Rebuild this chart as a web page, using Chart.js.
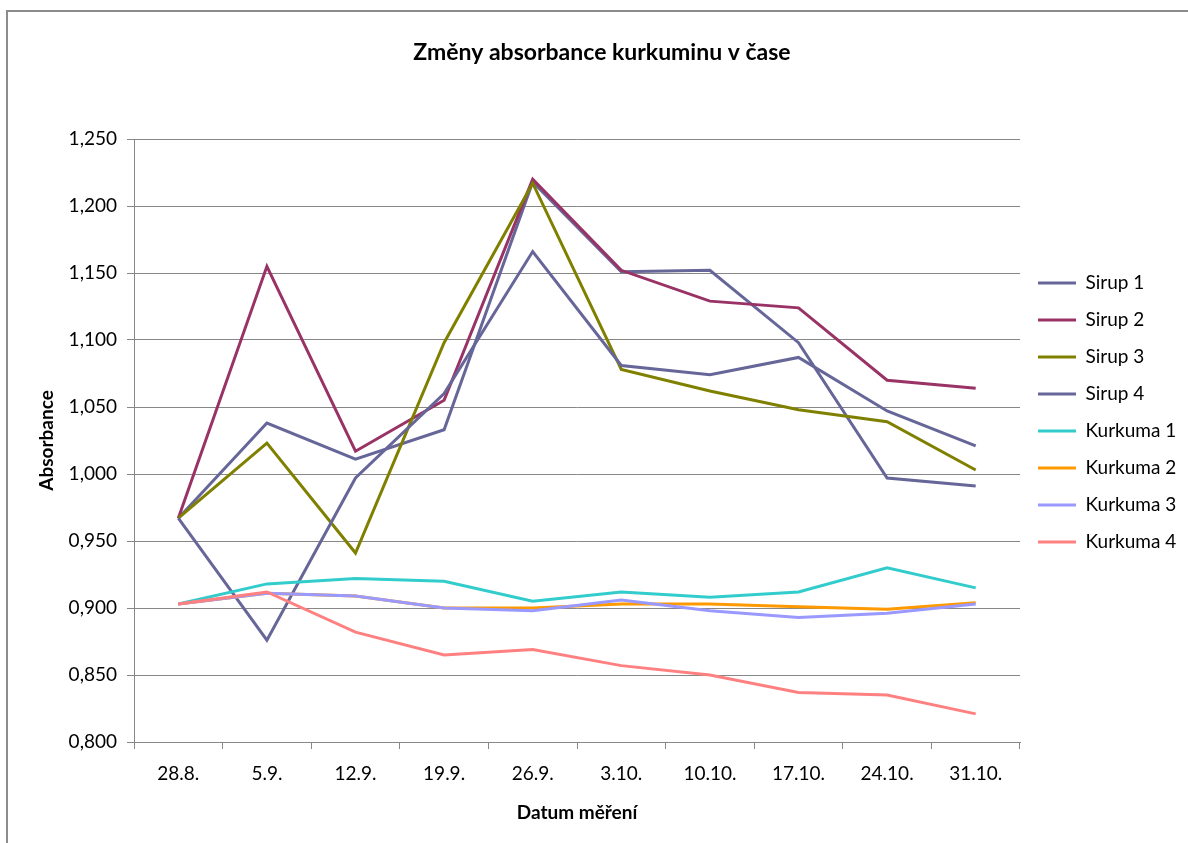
<!DOCTYPE html>
<html lang="cs">
<head>
<meta charset="utf-8">
<title>Změny absorbance kurkuminu v čase</title>
<script src="https://cdn.jsdelivr.net/npm/chart.js@4/dist/chart.umd.min.js"></script>
<style>
  html, body { margin: 0; padding: 0; background: #fff; overflow: hidden; }
  #wrap { position: relative; width: 1188px; height: 843px; overflow: hidden; }
  #frame { position: absolute; left: 6px; top: 10px; width: 1300px; height: 1000px;
           border: 2px solid #8c8c8c; box-sizing: border-box; }
  #chart { position: absolute; left: 0; top: 0; }
</style>
</head>
<body>
<div id="wrap">
  <div id="frame"></div>
  <canvas id="chart" width="1188" height="843"></canvas>
</div>
<script>
// Measurement dates
const dates = ['28.8.', '5.9.', '12.9.', '19.9.', '26.9.', '3.10.', '10.10.', '17.10.', '24.10.', '31.10.'];

// Absorbance readings per sample
const sirup1   = [0.967, 1.038, 1.011, 1.033, 1.218, 1.151, 1.152, 1.098, 0.997, 0.991];
const sirup2   = [0.967, 1.155, 1.017, 1.055, 1.220, 1.152, 1.129, 1.124, 1.070, 1.064];
const sirup3   = [0.967, 1.023, 0.941, 1.098, 1.217, 1.078, 1.062, 1.048, 1.039, 1.003];
const sirup4   = [0.967, 0.876, 0.997, 1.060, 1.166, 1.081, 1.074, 1.087, 1.047, 1.021];
const kurkuma1 = [0.903, 0.918, 0.922, 0.920, 0.905, 0.912, 0.908, 0.912, 0.930, 0.915];
const kurkuma2 = [0.903, 0.911, 0.909, 0.900, 0.900, 0.903, 0.903, 0.901, 0.899, 0.904];
const kurkuma3 = [0.903, 0.911, 0.909, 0.900, 0.898, 0.906, 0.898, 0.893, 0.896, 0.903];
const kurkuma4 = [0.903, 0.912, 0.882, 0.865, 0.869, 0.857, 0.850, 0.837, 0.835, 0.821];

// Series names and colours
const seriesNames  = ['Sirup 1', 'Sirup 2', 'Sirup 3', 'Sirup 4', 'Kurkuma 1', 'Kurkuma 2', 'Kurkuma 3', 'Kurkuma 4'];
const seriesValues = [sirup1, sirup2, sirup3, sirup4, kurkuma1, kurkuma2, kurkuma3, kurkuma4];
const seriesColors = ['#666699', '#993366', '#808000', '#666699', '#33cccc', '#ff9900', '#9999ff', '#ff8080'];

// Value axis range
const yMin = 0.8;
const yMax = 1.25;
const yStep = 0.05;

const FONT = 'Lato, "Open Sans", "DejaVu Sans", sans-serif';
const LABEL_SIZE = 19;
const PLOT_LEFT = 134;
const PLOT_RIGHT = 1020;
const LEGEND_PAD = 18;
const LEGEND_BOX = 38;

function build() {
  // size the legend so the plot ends where the legend starts
  const m = document.createElement('canvas').getContext('2d');
  m.font = LABEL_SIZE + 'px ' + FONT;
  const maxText = Math.max(...seriesNames.map(n => m.measureText(n).width));
  const legendW = LEGEND_PAD + LEGEND_BOX + LABEL_SIZE / 2 + maxText + 10;
  const padR = Math.max(0, 1188 - PLOT_RIGHT - legendW);
  const padL = padR + 16;

  const datasets = seriesNames.map((name, i) => ({
    label: name,
    data: seriesValues[i],
    borderColor: seriesColors[i],
    backgroundColor: seriesColors[i],
    borderWidth: 3,
    pointRadius: 0,
    pointHoverRadius: 0,
    tension: 0,
    order: seriesNames.length - i
  }));

  Chart.defaults.color = '#000';
  Chart.defaults.font.family = FONT;

  new Chart(document.getElementById('chart'), {
    type: 'line',
    data: { labels: dates, datasets },
    options: {
      responsive: false,
      animation: false,
      devicePixelRatio: 1,
      layout: { padding: { left: padL, right: padR, top: 0, bottom: 18 } },
      plugins: {
        tooltip: { enabled: false },
        title: {
          display: true,
          text: 'Změny absorbance kurkuminu v čase',
          color: '#000',
          font: { family: FONT, size: 23, weight: 'bold', lineHeight: 1.2 },
          padding: { top: 38.7, bottom: 72.7 }
        },
        legend: {
          position: 'right',
          align: 'center',
          maxWidth: 1188 - PLOT_RIGHT,
          labels: {
            color: '#000',
            font: { family: FONT, size: LABEL_SIZE },
            boxWidth: LEGEND_BOX,
            boxHeight: 3,
            padding: LEGEND_PAD,
            sort: (a, b) => a.datasetIndex - b.datasetIndex,
            generateLabels: chart => Chart.defaults.plugins.legend.labels.generateLabels(chart)
              .map(item => Object.assign(item, { lineWidth: 0 }))
          }
        }
      },
      scales: {
        x: {
          offset: true,
          grid: { display: true, drawOnChartArea: false, drawTicks: true, tickLength: 7,
                  offset: true, color: '#878787', lineWidth: 1 },
          border: { color: '#878787', width: 1 },
          ticks: { color: '#000', font: { family: FONT, size: LABEL_SIZE }, padding: 13,
                   maxRotation: 0, autoSkip: false },
          title: { display: true, text: 'Datum měření', color: '#000',
                   font: { family: FONT, size: 19, weight: 'bold', lineHeight: 1.2 },
                   padding: { top: 0, bottom: 0.5 } },
          afterFit: s => { s.height = 83; }
        },
        y: {
          min: yMin,
          max: yMax,
          grid: { color: '#878787', lineWidth: 1, tickLength: 7 },
          border: { color: '#878787', width: 1 },
          ticks: { stepSize: yStep, padding: 10, color: '#000',
                   font: { family: FONT, size: LABEL_SIZE },
                   callback: v => v.toFixed(3).replace('.', ',') },
          title: { display: true, text: 'Absorbance', color: '#000',
                   font: { family: FONT, size: 19, weight: 'bold', lineHeight: 1.2 },
                   padding: { top: Math.max(0, 47 - 11.4 - padL), bottom: 0 } },
          afterFit: s => { s.width = PLOT_LEFT - padL; }
        }
      }
    }
  });
}

const ready = (document.fonts && document.fonts.load)
  ? Promise.all([
      document.fonts.load(LABEL_SIZE + 'px Lato'),
      document.fonts.load('bold 23px Lato')
    ]).catch(() => null)
  : Promise.resolve();
ready.then(build);
</script>
</body>
</html>
